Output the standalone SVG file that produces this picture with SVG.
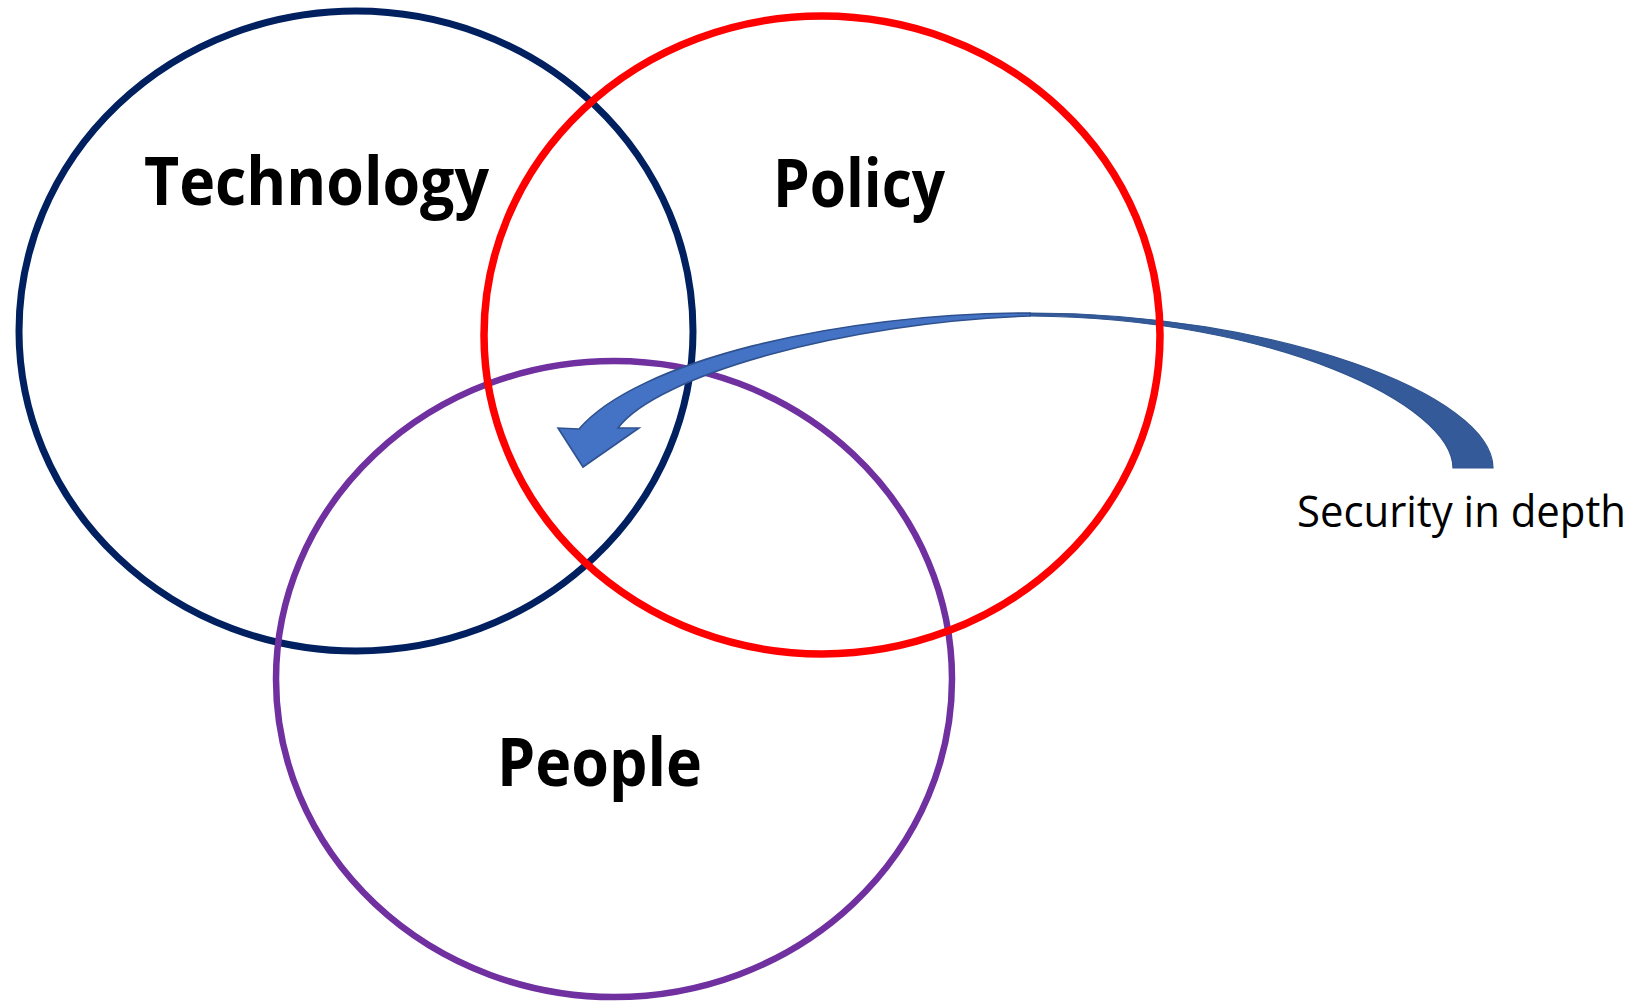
<svg xmlns="http://www.w3.org/2000/svg" width="1640" height="1002" viewBox="0 0 1640 1002">
  <style>
    .ring { fill: none; }
    .label { font-family: "Open Sans", "Liberation Sans", sans-serif; font-weight: 700; font-size: 66px; fill: #000000; }
    .note { font-family: "Open Sans", "Liberation Sans", sans-serif; font-weight: 400; font-size: 43px; fill: #000000; }
    .arrow-back { fill: #345A9A; stroke: #30548F; stroke-width: 1.2; }
    .arrow-front { fill: #4472C4; stroke: #2F528F; stroke-width: 1.6; stroke-linejoin: miter; }
  </style>
  <rect x="0" y="0" width="1640" height="1002" fill="#FFFFFF"/>

  <!-- Technology circle -->
  <g id="technology">
    <ellipse class="ring" cx="356" cy="331" rx="337" ry="320" stroke="#002060" stroke-width="7"/>
    <text class="label" x="144" y="205" textLength="345" lengthAdjust="spacingAndGlyphs">Technology</text>
  </g>

  <!-- People circle -->
  <g id="people">
    <ellipse class="ring" cx="614" cy="679" rx="338" ry="318" stroke="#7030A0" stroke-width="6.5"/>
    <text class="label" x="497" y="786" textLength="205" lengthAdjust="spacingAndGlyphs">People</text>
  </g>

  <!-- Curved "security in depth" arrow -->
  <g id="connectors">
    <path class="arrow-back" d="M 1493,468 C 1493,395 1275,313 1030,313 L 1030,316 C 1275,318 1453,405 1453,468 Z"/>
    <path class="arrow-front" d="M 1030,313 C 835,313 636,362 579,429 L 558,428 L 583,467 L 639,428 L 618,428 C 656,376 845,322 1030,316 Z"/>
    <text class="note" x="1297" y="527" textLength="329" lengthAdjust="spacingAndGlyphs">Security in depth</text>
  </g>

  <!-- Policy circle -->
  <g id="policy">
    <ellipse class="ring" cx="822" cy="335" rx="338" ry="319" stroke="#FF0000" stroke-width="7.5"/>
    <text class="label" x="773" y="207" textLength="172" lengthAdjust="spacingAndGlyphs">Policy</text>
  </g>
</svg>
